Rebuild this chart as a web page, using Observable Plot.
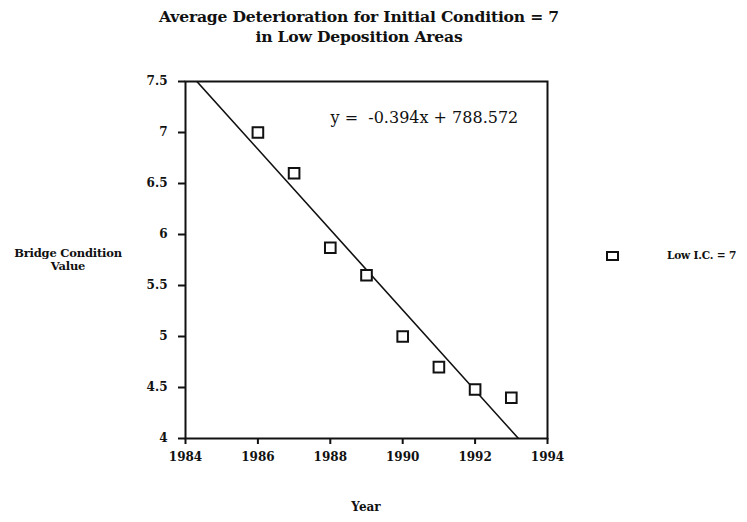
<!DOCTYPE html>
<html>
<head>
<meta charset="utf-8">
<script src="https://cdn.jsdelivr.net/npm/d3@7"></script>
<script src="https://cdn.jsdelivr.net/npm/@observablehq/plot@0.6"></script>
<style>
  html, body { margin: 0; padding: 0; background: #fff; }
  #wrap { position: relative; width: 747px; height: 522px; font-family: "DejaVu Serif", serif; color: #111; }
  .abs { position: absolute; font-weight: bold; }
  #title { left: 0; width: 718px; top: 7px; text-align: center; font-size: 15.6px; line-height: 20px; letter-spacing: -0.2px; }
  #ylab { left: 0; width: 136px; top: 247px; text-align: center; font-size: 11.5px; line-height: 13px; letter-spacing: -0.2px; }
  #xlab { left: 186px; width: 360px; top: 500px; text-align: center; font-size: 12px; }
  #legtext { left: 667px; top: 249px; font-size: 10.6px; letter-spacing: -0.2px; }
  #legbox { left: 606px; top: 251px; width: 9px; height: 6px; border: 2px solid #111; background: #fff; }
  svg { position: absolute; left: 0; top: 0; }
</style>
</head>
<body>
<div id="wrap">
  <div id="chart"></div>
  <div class="abs" id="title">Average Deterioration for Initial Condition = 7<br>in Low Deposition Areas</div>
  <div class="abs" id="ylab">Bridge Condition<br>Value</div>
  <div class="abs" id="xlab">Year</div>
  <div class="abs" id="legbox"></div>
  <div class="abs" id="legtext">Low I.C. = 7</div>
</div>
<script>
// Data
const years = [1986, 1987, 1988, 1989, 1990, 1991, 1992, 1993];
const conditionValues = [7.0, 6.6, 5.87, 5.6, 5.0, 4.7, 4.48, 4.4];
const xTicks = [1984, 1986, 1988, 1990, 1992, 1994];
const yTicks = [4, 4.5, 5, 5.5, 6, 6.5, 7, 7.5];
const yTickLabels = ["4", "4.5", "5", "5.5", "6", "6.5", "7", "7.5"];
const trendSlope = -0.394;
const trendIntercept = 789.32; // as drawn
const equationText = "y =  -0.394x + 788.572";
const equationPos = [1990.6, 7.14];

const points = years.map((x, i) => ({x, y: conditionValues[i]}));
const trend = [xTicks[0], xTicks[xTicks.length - 1]].map(x => ({x, y: trendSlope * x + trendIntercept}));

const chart = Plot.plot({
  width: 747,
  height: 522,
  marginLeft: 185,
  marginRight: 200,
  marginTop: 81,
  marginBottom: 84,
  style: {fontFamily: "DejaVu Serif, serif", fontSize: "12px", fontWeight: "bold", color: "#111", background: "transparent"},
  x: {domain: [1984, 1994], ticks: xTicks, tickFormat: d => String(d), label: null},
  y: {domain: [4, 7.5], ticks: yTicks, tickFormat: d => yTickLabels[yTicks.indexOf(d)], label: null},
  marks: [
    Plot.axisX({ticks: xTicks, tickFormat: d => String(d), tickSize: 6, tickPadding: 8, strokeWidth: 2, fontSize: 12, letterSpacing: -0.3}),
    Plot.axisY({ticks: yTicks, tickFormat: d => yTickLabels[yTicks.indexOf(d)], tickSize: 7, tickPadding: 11, strokeWidth: 2, fontSize: 12, letterSpacing: -0.3}),
    Plot.frame({stroke: "#111", strokeWidth: 2}),
    Plot.line(trend, {x: "x", y: "y", stroke: "#111", strokeWidth: 1.6, clip: true}),
    Plot.dot(points, {x: "x", y: "y", symbol: "square", r: 6, fill: "white", stroke: "#111", strokeWidth: 2}),
    Plot.text([equationText], {x: equationPos[0], y: equationPos[1], text: d => d, fontSize: 16, fontWeight: "normal", textAnchor: "middle", letterSpacing: -0.3})
  ]
});
document.getElementById("chart").appendChild(chart);
</script>
</body>
</html>
